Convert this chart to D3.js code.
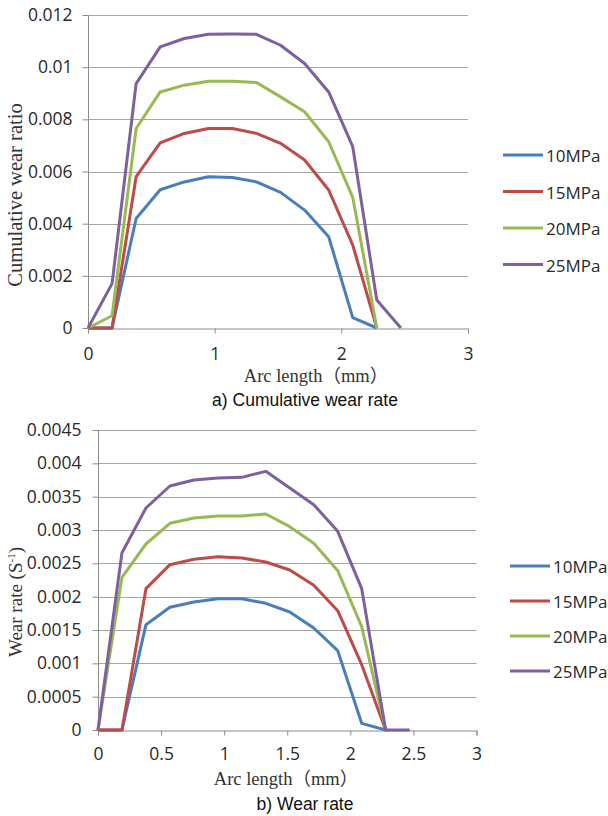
<!DOCTYPE html>
<html>
<head>
<meta charset="utf-8">
<script src="https://cdn.jsdelivr.net/npm/d3@7"></script>
<style>
  body { margin: 0; background: #fff; }
</style>
</head>
<body>
<div id="chart"></div>
<script>
// DATA
var arcLength = [0, 0.19, 0.38, 0.57, 0.76, 0.95, 1.14, 1.33, 1.52, 1.71, 1.9, 2.09, 2.28, 2.47]
var seriesNames = ['10MPa', '15MPa', '20MPa', '25MPa']
var seriesColours = ['#4a7ebb', '#be4b48', '#98b954', '#7d60a0']

var cumulative10 = [0, 0, 0.0042, 0.0053, 0.0056, 0.0058, 0.00577, 0.0056, 0.0052, 0.00452, 0.0035, 0.0004, 0]
var cumulative15 = [0, 0, 0.0058, 0.0071, 0.00746, 0.00765, 0.00765, 0.00746, 0.00708, 0.00644, 0.00529, 0.00318, 0]
var cumulative20 = [0, 0.00047, 0.00765, 0.00905, 0.00931, 0.00946, 0.00946, 0.00941, 0.00886, 0.00829, 0.00714, 0.00501, 0]
var cumulative25 = [0, 0.0017, 0.00937, 0.01078, 0.0111, 0.01126, 0.01127, 0.01126, 0.01084, 0.01014, 0.00905, 0.00695, 0.00107, 0]

var rate10 = [0, 0, 0.00158, 0.00184, 0.00192, 0.00197, 0.00197, 0.0019, 0.00177, 0.00153, 0.00119, 0.0001, 0]
var rate15 = [0, 0, 0.00212, 0.00248, 0.00256, 0.0026, 0.00258, 0.00252, 0.0024, 0.00217, 0.00179, 0.00098, 0]
var rate20 = [0, 0.00229, 0.00279, 0.0031, 0.00318, 0.00321, 0.00321, 0.00324, 0.00305, 0.0028, 0.00239, 0.00155, 0]
var rate25 = [0, 0.00266, 0.00333, 0.00366, 0.00375, 0.00378, 0.00379, 0.00388, 0.00363, 0.00338, 0.00298, 0.00212, 0, 0]

var topXTicks = [0, 1, 2, 3]
var topYTicks = [0, 0.002, 0.004, 0.006, 0.008, 0.01, 0.012]
var bottomXTicks = [0, 0.5, 1, 1.5, 2, 2.5, 3]
var bottomYTicks = [0, 0.0005, 0.001, 0.0015, 0.002, 0.0025, 0.003, 0.0035, 0.004, 0.0045]

// GLOBAL
var width = 608
var height = 816
var svg = d3.select('#chart').append('svg')
  .attr('width', width)
  .attr('height', height)

var tickFont = '"Open Sans", Lato, sans-serif'
var serifFont = '"Liberation Serif", "Times New Roman", "Noto Sans CJK SC", serif'
var titleFont = '"Liberation Sans", Arial, sans-serif'

// HELPERS

function drawPanel(opt) {
  var g = svg.append('g')

  var xMap = d3.scaleLinear()
    .domain([0, 3])
    .range([opt.left, opt.right])

  var yMap = d3.scaleLinear()
    .domain([0, d3.max(opt.yTicks)])
    .range([opt.bottom, opt.top])

  // gridlines
  g.selectAll('.grid')
    .data(opt.yTicks.filter(d => d > 0))
    .enter().append('line')
    .attr('x1', opt.left)
    .attr('x2', opt.right)
    .attr('y1', d => Math.round(yMap(d)) + 0.5)
    .attr('y2', d => Math.round(yMap(d)) + 0.5)
    .style('stroke', '#a6a6a6')
    .style('stroke-width', 1)

  var yAxis = d3.axisLeft(yMap)
    .tickValues(opt.yTicks)
    .tickSize(6)
    .tickPadding(opt.yPad)
    .tickFormat(d => String(+d.toFixed(5)))

  var gY = g.append('g')
    .attr('transform', 'translate(' + [Math.round(opt.left) + 0.5, 0] + ')')
    .call(yAxis)

  var xAxis = d3.axisBottom(xMap)
    .tickValues(opt.xTicks)
    .tickSize(5)
    .tickPadding(opt.xPad)
    .tickFormat(d => String(d))

  var gX = g.append('g')
    .attr('transform', 'translate(' + [0, Math.round(opt.bottom) + 0.5] + ')')
    .call(xAxis)

  gY.select('.domain').attr('d', 'M0,' + yMap(d3.max(opt.yTicks)) + 'V' + (opt.bottom + 5))
  ;[gX, gY].forEach(function(a) {
    a.selectAll('path, line').style('stroke', '#8c8c8c')
    a.selectAll('text')
      .style('font-family', tickFont)
      .style('font-size', '17.5px')
      .style('fill', '#2a2a2a')
  })

  var line = d3.line()
    .x((d, i) => xMap(arcLength[i]))
    .y(d => yMap(d))

  opt.series.forEach(function(s, i) {
    g.append('path')
      .datum(s)
      .attr('d', line)
      .style('fill', 'none')
      .style('stroke', seriesColours[i])
      .style('stroke-width', 3)
      .style('stroke-linejoin', 'round')
  })

  // legend
  seriesNames.forEach(function(name, i) {
    var y = opt.legendY + i * opt.legendStep
    g.append('line')
      .attr('x1', opt.legendX)
      .attr('x2', opt.legendX + 40)
      .attr('y1', y)
      .attr('y2', y)
      .style('stroke', seriesColours[i])
      .style('stroke-width', 3)
    g.append('text')
      .attr('x', opt.legendX + 43)
      .attr('y', y + 7)
      .text(name)
      .style('font-family', tickFont)
      .style('font-size', '17px')
      .style('fill', '#2a2a2a')
  })

  g.append('text')
    .attr('x', opt.xLabX)
    .attr('y', opt.xLabY)
    .text('Arc length（mm）')
    .style('font-family', serifFont)
    .style('font-size', '18.5px')
    .style('fill', '#333')
    .style('text-anchor', 'middle')

  var yLab = g.append('text')
    .attr('transform', 'translate(' + [opt.yLabX, opt.yLabY] + ') rotate(-90)')
    .style('font-family', serifFont)
    .style('font-size', opt.yLabSize)
    .style('fill', '#333')
    .style('text-anchor', 'middle')
  opt.yLabel(yLab)

  g.append('text')
    .attr('x', opt.titleX)
    .attr('y', opt.titleY)
    .text(opt.title)
    .style('font-family', titleFont)
    .style('font-size', '17.5px')
    .style('fill', '#111')
    .style('text-anchor', 'middle')
}

// MAIN
drawPanel({
  left: 88, right: 468, top: 15, bottom: 328,
  xTicks: topXTicks, yTicks: topYTicks, yPad: 10, xPad: 14,
  series: [cumulative10, cumulative15, cumulative20, cumulative25],
  legendX: 503, legendY: 155, legendStep: 36.5,
  xLabX: 316, xLabY: 382,
  yLabX: 22, yLabY: 195, yLabSize: '20.5px',
  yLabel: t => t.text('Cumulative wear ratio'),
  title: 'a) Cumulative wear rate', titleX: 305, titleY: 406
})

drawPanel({
  left: 98, right: 476.5, top: 430, bottom: 730,
  xTicks: bottomXTicks, yTicks: bottomYTicks, yPad: 11, xPad: 12.5,
  series: [rate10, rate15, rate20, rate25],
  legendX: 510, legendY: 566, legendStep: 35,
  xLabX: 286, xLabY: 785,
  yLabX: 22, yLabY: 602, yLabSize: '19px',
  yLabel: function(t) {
    t.append('tspan').text('Wear rate (S')
    t.append('tspan').text('-1').attr('dy', -7).style('font-size', '11px')
    t.append('tspan').text(')').attr('dy', 7)
  },
  title: 'b) Wear rate', titleX: 305, titleY: 810
})
</script>
</body>
</html>
